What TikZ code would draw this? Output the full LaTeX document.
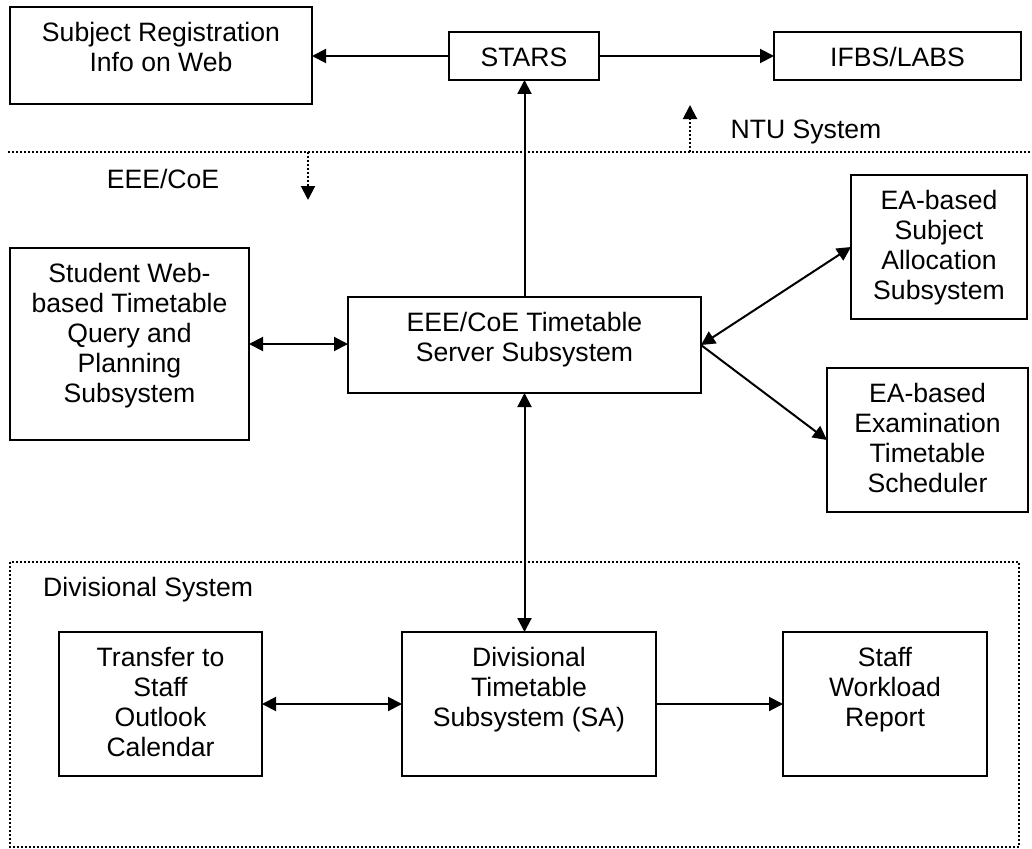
\documentclass[tikz,border=0pt]{standalone}
\usepackage{fontspec}
\setmainfont{Liberation Sans}
\usetikzlibrary{arrows.meta,calc}
\begin{document}
\begin{tikzpicture}[x=1pt,y=-1pt,
  every node/.style={font=\fontsize{26.6}{30}\selectfont},
  box/.style={draw,line width=2pt,inner sep=0pt,outer sep=0pt},
  lbl/.style={inner sep=0pt,align=center,anchor=north},
  arr/.style={line width=2pt,-{Triangle[length=14pt,width=14pt]}},
  darr/.style={line width=2pt,{Triangle[length=14pt,width=14pt]}-{Triangle[length=14pt,width=14pt]}},
  dots/.style={line width=2pt,dash pattern=on 2pt off 2pt},
  tiponly/.style={line width=2pt,-{Triangle[length=14pt,width=14pt]}}
]
\useasboundingbox (0,0) rectangle (1032,848);

% NTU-level systems
\node[box,minimum width=302pt,minimum height=97pt] (subj) at (161,55.5) {};
\node[box,minimum width=150pt,minimum height=48pt] (stars) at (524,56) {};
\node[box,minimum width=247pt,minimum height=48pt] (ifbs) at (897.5,56) {};

% EEE/CoE systems
\node[box,minimum width=239pt,minimum height=192pt] (student) at (129.5,344) {};
\node[box,minimum width=353pt,minimum height=96pt] (server) at (524.5,345) {};
\node[box,minimum width=176pt,minimum height=144pt] (alloc) at (939,247) {};
\node[box,minimum width=201pt,minimum height=144pt] (exam) at (927.5,440) {};

% Divisional systems
\node[box,minimum width=203pt,minimum height=144pt] (transfer) at (160.5,704) {};
\node[box,minimum width=254pt,minimum height=144pt] (div) at (529,704) {};
\node[box,minimum width=204pt,minimum height=144pt] (staff) at (885,704) {};

% box texts, set from the top of each box
\node[lbl] (subjT) at ($(subj.north)+(0,15.5)$) {Subject Registration\\Info on Web};
\node[lbl] (starsT) at ($(stars.north)+(0,15.5)$) {STARS};
\node[lbl] (ifbsT) at ($(ifbs.north)+(0,15.5)$) {IFBS/LABS};
\node[lbl] (studentT) at ($(student.north)+(0,15.5)$) {Student Web-\\based Timetable\\Query and\\Planning\\Subsystem};
\node[lbl] (serverT) at ($(server.north)+(0,15.5)$) {EEE/CoE Timetable\\Server Subsystem};
\node[lbl] (allocT) at ($(alloc.north)+(0,15.5)$) {EA-based\\Subject\\Allocation\\Subsystem};
\node[lbl] (examT) at ($(exam.north)+(0,15.5)$) {EA-based\\Examination\\Timetable\\Scheduler};
\node[lbl] (transferT) at ($(transfer.north)+(0,15.5)$) {Transfer to\\Staff\\Outlook\\Calendar};
\node[lbl] (divT) at ($(div.north)+(0,15.5)$) {Divisional\\Timetable\\Subsystem (SA)};
\node[lbl] (staffT) at ($(staff.north)+(0,15.5)$) {Staff\\Workload\\Report};

% region labels
\node[inner sep=0pt,anchor=base] (eeeL) at (163,188) {EEE/CoE};
\node[inner sep=0pt,anchor=base] (ntuL) at (806,139) {NTU System};
\node[inner sep=0pt,anchor=base west] (divL) at (43,596) {Divisional System};

% boundary between NTU and EEE/CoE levels
\coordinate (sepL) at (8,152);
\coordinate (sepR) at (1032,152);
\draw[dots] (sepL) -- (sepR);

% dotted pointers: dotted shaft, solid head
\coordinate (eeeS) at (308,152);
\coordinate (eeeB) at (308,186);
\coordinate (eeeE) at (308,200);
\coordinate (ntuS) at (690,152);
\coordinate (ntuB) at (690,119);
\coordinate (ntuE) at (690,105);
\draw[dots] (eeeS) -- (eeeB);
\draw[tiponly] (eeeB) -- (eeeE);
\draw[dots] (ntuS) -- (ntuB);
\draw[tiponly] (ntuB) -- (ntuE);

% divisional region frame
\draw[dots] (10,562) rectangle (1019,847);

% data flows
\draw[arr] (stars.west) -- (stars.west -| subj.east);
\draw[arr] (stars.east) -- (stars.east -| ifbs.west);
\draw[arr] (server.north) -- (server.north |- stars.south);
\draw[darr] (student.east) -- (student.east -| server.west);
\draw[darr] (server.east) -- (alloc.west);
\draw[arr] (server.east) -- (exam.west);
\draw[darr] (server.south) -- (server.south |- div.north);
\draw[darr] (transfer.east) -- (transfer.east -| div.west);
\draw[arr] (div.east) -- (div.east -| staff.west);
\end{tikzpicture}
\end{document}
